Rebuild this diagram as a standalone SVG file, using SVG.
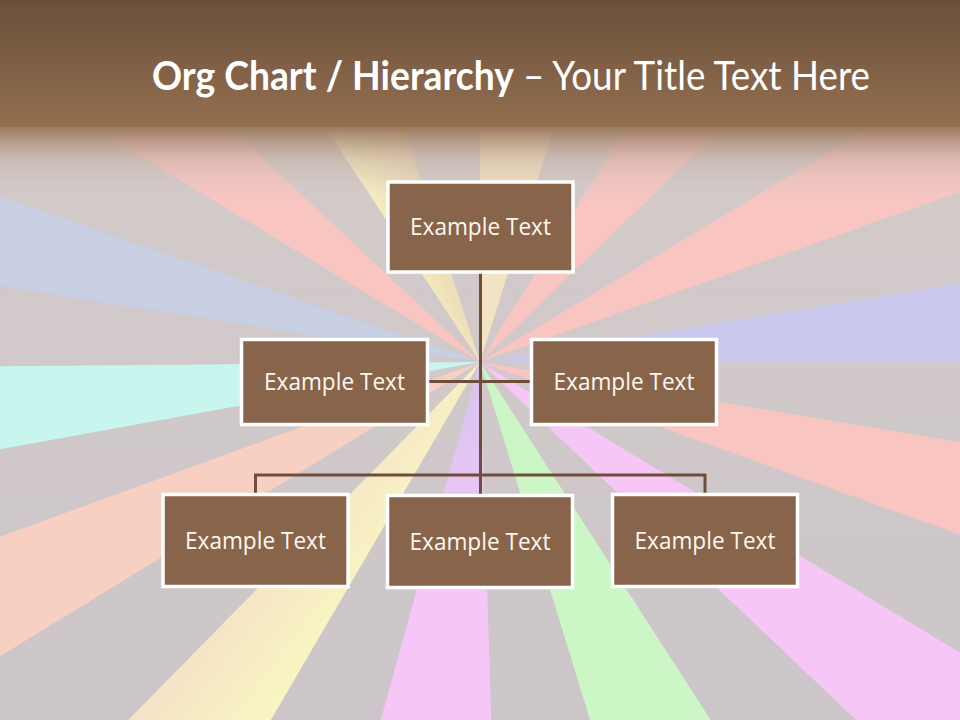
<svg xmlns="http://www.w3.org/2000/svg" width="960" height="720" viewBox="0 0 960 720">
  <defs>
    <linearGradient id="bg" x1="0" y1="0" x2="0" y2="1">
      <stop offset="0" stop-color="#d5cbc9"/>
      <stop offset="1" stop-color="#ccc6ca"/>
    </linearGradient>
    <linearGradient id="hdr" x1="0" y1="0" x2="0" y2="1">
      <stop offset="0" stop-color="#6a503b"/>
      <stop offset="1" stop-color="#946f50"/>
    </linearGradient>
    <linearGradient id="fade" x1="0" y1="0" x2="0" y2="1">
      <stop offset="0" stop-color="#987558" stop-opacity="0.95"/>
      <stop offset="0.45" stop-color="#c4ada0" stop-opacity="0.5"/>
      <stop offset="1" stop-color="#d8cdca" stop-opacity="0"/>
    </linearGradient>
    <linearGradient id="lav" gradientUnits="userSpaceOnUse" x1="0" y1="400" x2="0" y2="600">
      <stop offset="0" stop-color="#dcc4f2"/>
      <stop offset="1" stop-color="#f6c6f6"/>
    </linearGradient>
    <linearGradient id="ylo" gradientUnits="userSpaceOnUse" x1="150" y1="680" x2="246" y2="752">
      <stop offset="0" stop-color="#f6e0c6"/>
      <stop offset="1" stop-color="#f8f6c2"/>
    </linearGradient>
    <linearGradient id="yup" gradientUnits="userSpaceOnUse" x1="356" y1="177" x2="411" y2="151">
      <stop offset="0" stop-color="#f6f0c0"/>
      <stop offset="1" stop-color="#e8d6b4"/>
    </linearGradient>
    <style>
      .pink { fill: #f8c5c1; }
      .node rect { fill: #87644a; stroke: #ffffff; stroke-width: 3.5; }
      .node text { font-family: "Open Sans", "Liberation Sans", sans-serif; font-size: 23px; fill: #fff8f0; text-anchor: middle; }
      .conn { stroke: #6e4e39; stroke-width: 3; fill: none; }
      .title { font-family: "Lato", "Open Sans", "Liberation Sans", sans-serif; font-size: 40px; fill: #ffffff; }
    </style>
  </defs>

  <!-- background sunburst -->
  <rect x="0" y="0" width="960" height="720" fill="url(#bg)"/>
  <g id="rays">
    <polygon class="pink" points="480,362 -375.4,-156 -249,-322.5"/>
    <polygon fill="url(#yup)" points="480,362 -70.5,-472.8 171,-589.1"/>
    <polygon fill="#f2e3c2" points="480,362 480,-638 780.7,-591.7"/>
    <polygon class="pink" points="480,362 1009.9,-486 1199.3,-332.7"/>
    <polygon class="pink" points="480,362 1337.2,-153 1422.6,28.2"/>
    <polygon fill="#c9c8ec" points="480,362 1466.9,200.4 1480,362"/>
    <polygon class="pink" points="480,362 1466.3,527 1420.9,700.7"/>
    <polygon fill="#f6c6f6" points="480,362 1335.4,880 1204.2,1051.6"/>
    <polygon fill="#ccf6c6" points="480,362 1021.7,1202.6 774,1317.8"/>
    <polygon fill="url(#lav)" points="480,362 511.4,1361.5 212.8,1325.6"/>
    <polygon fill="url(#ylo)" points="480,362 -24.5,1225.4 -220.9,1075.3"/>
    <polygon fill="#f8d0c2" points="480,362 -372.6,884.5 -459.7,704"/>
    <polygon fill="#c8f5ed" points="480,362 -503.9,540.8 -520,370.7"/>
    <polygon fill="#c8cfe2" points="480,362 -507.7,205.6 -465.5,36.4"/>
  </g>

  <!-- header -->
  <rect x="0" y="0" width="960" height="127" fill="url(#hdr)"/>
  <rect x="0" y="127" width="960" height="75" fill="url(#fade)"/>
  <text class="title" x="152" y="90" font-weight="bold" textLength="362" lengthAdjust="spacingAndGlyphs">Org Chart / Hierarchy</text>
  <text class="title" x="523" y="90" textLength="347" lengthAdjust="spacingAndGlyphs">– Your Title Text Here</text>

  <!-- connectors -->
  <g id="connectors" class="conn">
    <line x1="480.5" y1="273" x2="480.5" y2="494"/>
    <line x1="428" y1="381.5" x2="531" y2="381.5"/>
    <polyline points="255.5,493 255.5,475 705,475 705,493"/>
  </g>

  <!-- nodes -->
  <g id="node-top" class="node">
    <rect x="388" y="182" width="185" height="90"/>
    <text x="480.5" y="234.5" textLength="141" lengthAdjust="spacingAndGlyphs">Example Text</text>
  </g>
  <g id="node-mid-left" class="node">
    <rect x="241.5" y="339.5" width="186" height="85"/>
    <text x="334.5" y="390" textLength="141" lengthAdjust="spacingAndGlyphs">Example Text</text>
  </g>
  <g id="node-mid-right" class="node">
    <rect x="531.5" y="339.5" width="185" height="85"/>
    <text x="624" y="390" textLength="141" lengthAdjust="spacingAndGlyphs">Example Text</text>
  </g>
  <g id="node-bottom-left" class="node">
    <rect x="163" y="494.5" width="185" height="92"/>
    <text x="255.5" y="548.5" textLength="141" lengthAdjust="spacingAndGlyphs">Example Text</text>
  </g>
  <g id="node-bottom-mid" class="node">
    <rect x="387.5" y="495.5" width="185" height="92"/>
    <text x="480" y="549.5" textLength="141" lengthAdjust="spacingAndGlyphs">Example Text</text>
  </g>
  <g id="node-bottom-right" class="node">
    <rect x="612.5" y="494.5" width="185" height="92"/>
    <text x="705" y="548.5" textLength="141" lengthAdjust="spacingAndGlyphs">Example Text</text>
  </g>
</svg>
